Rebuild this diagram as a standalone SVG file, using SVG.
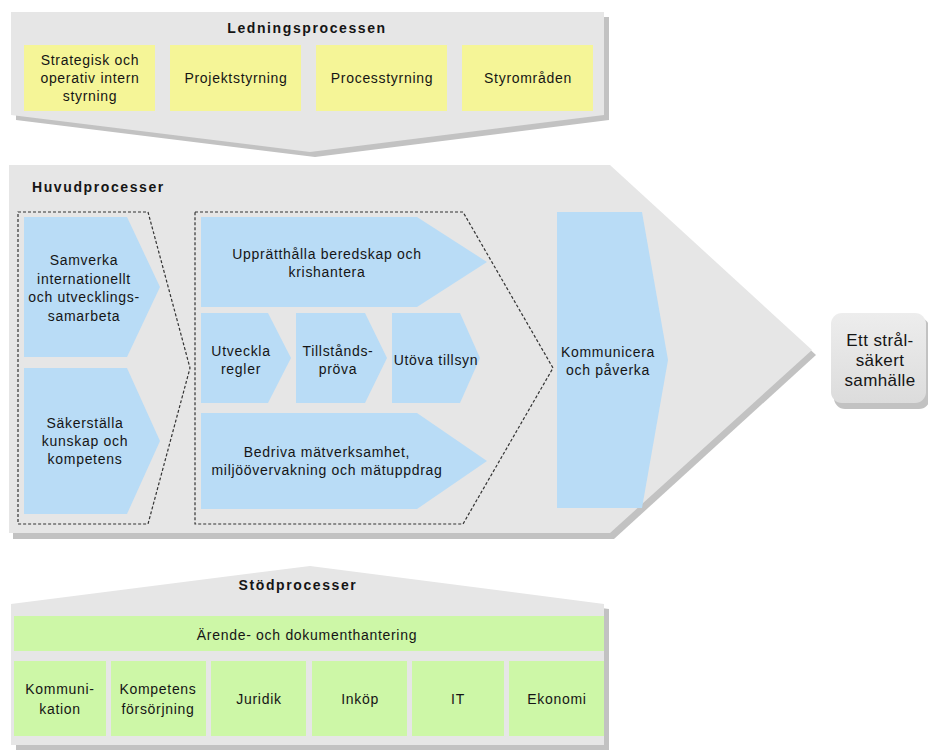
<svg xmlns="http://www.w3.org/2000/svg" width="928" height="754" viewBox="0 0 928 754">
<defs>
<linearGradient id="gGoal" x1="0" y1="0" x2="0" y2="1">
<stop offset="0" stop-color="#ededed"/>
<stop offset="1" stop-color="#dcdcdc"/>
</linearGradient>
<style>
.bg{fill:#e6e6e6}
.sh{fill:#c2c2c2}
.yel{fill:#f5f597}
.blue{fill:#b9dcf6}
.grn{fill:#cdf7a7}
.dash{fill:none;stroke:#333;stroke-width:1.2;stroke-dasharray:3 2}
text{font-family:"Liberation Sans",Arial,sans-serif;font-size:14px;fill:#151515;letter-spacing:0.7px}
.c{text-anchor:middle}
.t{font-weight:bold;letter-spacing:1.6px}
.goal{font-size:17px;letter-spacing:0.4px}
</style>
</defs>
<rect width="928" height="754" fill="#ffffff"/>

<g id="ledningsprocessen">
<polygon class="sh" points="16,17 609,17 609,120 315,157 16,120"/>
<polygon class="bg" points="11,12 604,12 604,115 310,152 11,115"/>
<text class="c t" x="307" y="33">Ledningsprocessen</text>
</g>
<g id="strategisk">
<rect class="yel" x="24" y="45" width="131" height="66"/>
<text class="c" x="90" y="65">Strategisk och</text>
<text class="c" x="90" y="83">operativ intern</text>
<text class="c" x="90" y="101">styrning</text>
</g>
<g id="projektstyrning">
<rect class="yel" x="170" y="45" width="131" height="66"/>
<text class="c" x="236" y="83">Projektstyrning</text>
</g>
<g id="processtyrning">
<rect class="yel" x="316" y="45" width="131" height="66"/>
<text class="c" x="382" y="83">Processtyrning</text>
</g>
<g id="styromraden">
<rect class="yel" x="462" y="45" width="131" height="66"/>
<text class="c" x="528" y="83">Styrområden</text>
</g>

<g id="huvudprocesser">
<polygon class="sh" points="13,170 614,170 816,355 614,539 13,539"/>
<polygon class="bg" points="9,165 610,165 812,350 610,533 9,533"/>
<text class="t" x="32" y="192">Huvudprocesser</text>
<polygon class="dash" points="18,212 148,212 190,368 148,524 18,524"/>
<polygon class="dash" points="195,212 463,212 553,368 463,524 195,524"/>
</g>
<g id="samverka">
<polygon class="blue" points="24,217 127,217 160,287 127,357 24,357"/>
<text class="c" x="84" y="265">Samverka</text>
<text class="c" x="84" y="283.5">internationellt</text>
<text class="c" x="84" y="302">och utvecklings-</text>
<text class="c" x="84" y="320.5">samarbeta</text>
</g>
<g id="sakerstalla">
<polygon class="blue" points="24,368 127,368 160,441 127,514 24,514"/>
<text class="c" x="85" y="428">Säkerställa</text>
<text class="c" x="85" y="446">kunskap och</text>
<text class="c" x="85" y="464">kompetens</text>
</g>
<g id="upprathalla">
<polygon class="blue" points="201,217 417,217 487,262 417,307 201,307"/>
<text class="c" x="327" y="259">Upprätthålla beredskap och</text>
<text class="c" x="327" y="277">krishantera</text>
</g>
<g id="utveckla">
<polygon class="blue" points="201,313 268,313 291,358 268,403 201,403"/>
<text class="c" x="241" y="356">Utveckla</text>
<text class="c" x="241" y="374">regler</text>
</g>
<g id="tillstand">
<polygon class="blue" points="296,313 365,313 387,358 365,403 296,403"/>
<text class="c" x="338" y="356">Tillstånds-</text>
<text class="c" x="338" y="374">pröva</text>
</g>
<g id="tillsyn">
<polygon class="blue" points="392,313 460,313 480,358 460,403 392,403"/>
<text class="c" x="436" y="365">Utöva tillsyn</text>
</g>
<g id="bedriva">
<polygon class="blue" points="201,413 417,413 487,461 417,509 201,509"/>
<text class="c" x="327" y="457">Bedriva mätverksamhet,</text>
<text class="c" x="327" y="475">miljöövervakning  och mätuppdrag</text>
</g>
<g id="kommunicera">
<polygon class="blue" points="557,212 642,212 668,360 642,508 557,508"/>
<text class="c" x="608" y="357">Kommunicera</text>
<text class="c" x="608" y="375">och påverka</text>
</g>

<g id="goal">
<rect x="834" y="318" width="96" height="91" rx="11" fill="#c2c2c2"/>
<rect x="831" y="313" width="95" height="90" rx="11" fill="url(#gGoal)"/>
<text class="c goal" x="880" y="346">Ett strål-</text>
<text class="c goal" x="880" y="366">säkert</text>
<text class="c goal" x="880" y="386">samhälle</text>
</g>

<g id="stodprocesser">
<polygon class="sh" points="16,609 310,571 609,609 609,750 16,750"/>
<polygon class="bg" points="11,604 310,566 604,604 604,745 11,745"/>
<text class="c t" x="298" y="590">Stödprocesser</text>
</g>
<g id="arende">
<rect class="grn" x="14" y="616" width="590" height="35"/>
<text class="c" x="307" y="640">Ärende- och dokumenthantering</text>
</g>
<g id="kommunikation">
<rect class="grn" x="14" y="661" width="92" height="75"/>
<text class="c" x="60" y="694">Kommuni-</text>
<text class="c" x="60" y="714">kation</text>
</g>
<g id="kompetens">
<rect class="grn" x="111" y="661" width="95" height="75"/>
<text class="c" x="158" y="694">Kompetens</text>
<text class="c" x="158" y="714">försörjning</text>
</g>
<g id="juridik">
<rect class="grn" x="211" y="661" width="95" height="75"/>
<text class="c" x="259" y="704">Juridik</text>
</g>
<g id="inkop">
<rect class="grn" x="312" y="661" width="95" height="75"/>
<text class="c" x="360" y="704">Inköp</text>
</g>
<g id="it">
<rect class="grn" x="412" y="661" width="92" height="75"/>
<text class="c" x="458" y="704">IT</text>
</g>
<g id="ekonomi">
<rect class="grn" x="509" y="661" width="95" height="75"/>
<text class="c" x="557" y="704">Ekonomi</text>
</g>
<g id="connectors"/>
</svg>
